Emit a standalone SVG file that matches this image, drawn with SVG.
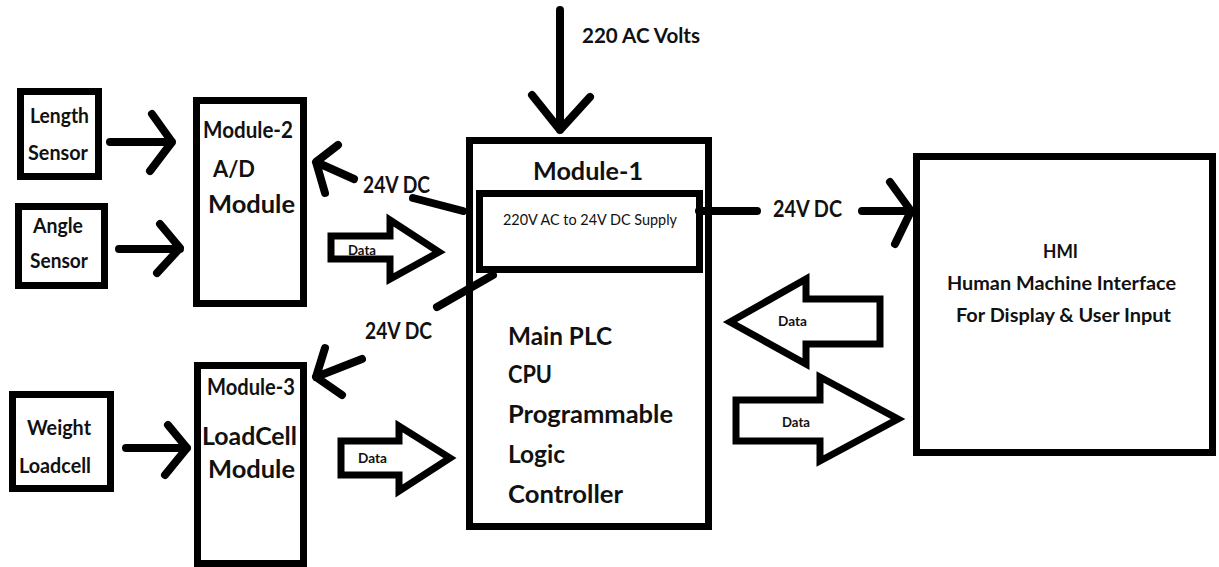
<svg xmlns="http://www.w3.org/2000/svg" width="1219" height="567" viewBox="0 0 1219 567">
<style>
.box{fill:#fff;stroke:#000;stroke-width:7}
.ln{fill:none;stroke:#000;stroke-width:8;stroke-linecap:round;stroke-linejoin:round}
.blk{fill:#fff;stroke:#000;stroke-width:7;stroke-linejoin:miter;stroke-miterlimit:10}
text{font-family:Lato,"Liberation Sans",sans-serif;fill:#111;font-weight:700}
.s20{font-size:20px}
.s22{font-size:22px}
.s25{font-size:25px}
.sd{font-size:13px;font-weight:700}
.sm{font-size:15px;font-weight:400}
.h{font-size:18px}
</style>
<rect width="1219" height="567" fill="#fff"/>

<g id="length-sensor">
<rect class="box" x="20.5" y="91.5" width="78" height="85"/>
<text class="s20" x="30" y="123" textLength="59" lengthAdjust="spacingAndGlyphs">Length</text>
<text class="s20" x="28" y="160" textLength="60" lengthAdjust="spacingAndGlyphs">Sensor</text>
</g>

<g id="angle-sensor">
<rect class="box" x="18.5" y="206.5" width="86" height="79"/>
<text class="s20" x="33" y="233" textLength="50" lengthAdjust="spacingAndGlyphs">Angle</text>
<text class="s20" x="30" y="268" textLength="58" lengthAdjust="spacingAndGlyphs">Sensor</text>
</g>

<g id="module-2">
<rect class="box" x="196.5" y="100.5" width="107" height="203"/>
<text class="s22" x="203" y="138" textLength="90" lengthAdjust="spacingAndGlyphs">Module-2</text>
<text class="s22" x="213" y="177" textLength="42" lengthAdjust="spacingAndGlyphs">A/D</text>
<text class="s25" x="208" y="213" textLength="87" lengthAdjust="spacingAndGlyphs">Module</text>
</g>

<g id="weight-loadcell">
<rect class="box" x="12.5" y="394.5" width="98" height="94"/>
<text class="s20" x="27" y="435" textLength="64" lengthAdjust="spacingAndGlyphs">Weight</text>
<text class="s20" x="19" y="473" textLength="72" lengthAdjust="spacingAndGlyphs">Loadcell</text>
</g>

<g id="module-3">
<rect class="box" x="197.5" y="365.5" width="106" height="198"/>
<text class="s22" x="207" y="395" textLength="88" lengthAdjust="spacingAndGlyphs">Module-3</text>
<text class="s25" x="202" y="445" textLength="95" lengthAdjust="spacingAndGlyphs">LoadCell</text>
<text class="s25" x="208" y="478" textLength="87" lengthAdjust="spacingAndGlyphs">Module</text>
</g>

<g id="module-1">
<rect class="box" x="469.5" y="140.5" width="239" height="386"/>
<text class="s25" x="533" y="180" textLength="110" lengthAdjust="spacingAndGlyphs">Module-1</text>
<text class="s25" x="508" y="345" textLength="104" lengthAdjust="spacingAndGlyphs">Main PLC</text>
<text class="s25" x="508" y="383" textLength="44" lengthAdjust="spacingAndGlyphs">CPU</text>
<text class="s25" x="508" y="423" textLength="165" lengthAdjust="spacingAndGlyphs">Programmable</text>
<text class="s25" x="508" y="463" textLength="57" lengthAdjust="spacingAndGlyphs">Logic</text>
<text class="s25" x="508" y="503" textLength="115" lengthAdjust="spacingAndGlyphs">Controller</text>
</g>

<g id="power-supply">
<rect class="box" x="479.5" y="193.5" width="220" height="76"/>
<text class="sm" x="503" y="225" textLength="174" lengthAdjust="spacingAndGlyphs">220V AC to 24V DC Supply</text>
</g>

<g id="hmi">
<rect class="box" x="916.5" y="156.5" width="296" height="296"/>
<text class="h" x="1043" y="258" textLength="35" lengthAdjust="spacingAndGlyphs">HMI</text>
<text class="h" x="947" y="290" textLength="229" lengthAdjust="spacingAndGlyphs">Human Machine Interface</text>
<text class="h" x="956" y="322" textLength="215" lengthAdjust="spacingAndGlyphs">For Display &amp; User Input</text>
</g>

<g id="connectors">
<path class="ln" d="M110 142H172M152 114L172 142L150 171"/>
<path class="ln" d="M119 249H180M160 224L180 248L157 273"/>
<path class="ln" d="M126 448H187M168 425L187 448L165 475"/>
<path class="ln" d="M560 10V130M532 95L560 130L590 97"/>
<text class="s20" x="582" y="43" textLength="118" lengthAdjust="spacingAndGlyphs">220 AC Volts</text>
<path class="ln" d="M413 198L463 211M354 179L316 162M338 145L316 162L325 193"/>
<text class="s22" x="363" y="193" textLength="67" lengthAdjust="spacingAndGlyphs">24V DC</text>
<path class="ln" d="M437 307L493 275M362 359L316 377M325 348L316 377L342 395"/>
<text class="s22" x="365" y="339" textLength="67" lengthAdjust="spacingAndGlyphs">24V DC</text>
<path class="ln" d="M699 211H757M862 211H910M890 182L911 211L895 244"/>
<text class="s22" x="773" y="217" textLength="69" lengthAdjust="spacingAndGlyphs">24V DC</text>
<polygon class="blk" points="331,236 390,236 390,220 439,252 390,279 390,259 331,259"/>
<text class="sd" x="348" y="255" textLength="28" lengthAdjust="spacingAndGlyphs">Data</text>
<polygon class="blk" points="341,441 399,441 399,426 450,458 399,491 399,475 341,475"/>
<text class="sd" x="358" y="463" textLength="29" lengthAdjust="spacingAndGlyphs">Data</text>
<polygon class="blk" points="730,322 806,279 806,299 880,299 880,344 806,344 806,364"/>
<text class="sd" x="778" y="326" textLength="29" lengthAdjust="spacingAndGlyphs">Data</text>
<polygon class="blk" points="736,400 820,400 820,377 898,419 820,461 820,441 736,441"/>
<text class="sd" x="782" y="427" textLength="28" lengthAdjust="spacingAndGlyphs">Data</text>
</g>
</svg>
